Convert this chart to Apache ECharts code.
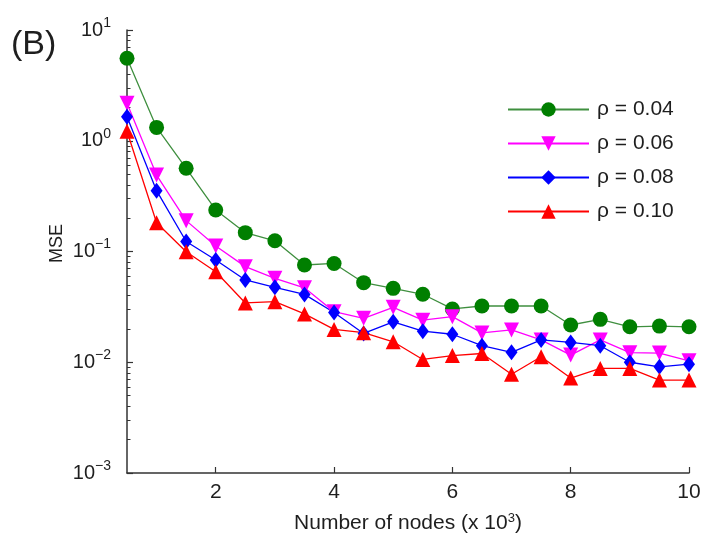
<!DOCTYPE html>
<html>
<head>
<meta charset="utf-8">
<script src="https://cdn.jsdelivr.net/npm/echarts@6/dist/echarts.min.js"></script>
<style>
  html, body { margin: 0; padding: 0; background: #fff; }
  #chart { width: 707px; height: 543px; }
</style>
</head>
<body>
<div id="chart"></div>
<script>
// Number of nodes (thousands)
const nodes = [0.5, 1, 1.5, 2, 2.5, 3, 3.5, 4, 4.5, 5, 5.5, 6, 6.5, 7, 7.5, 8, 8.5, 9, 9.5, 10];

// MSE for each sampling ratio
const mseRho004 = [5.55, 1.32, 0.564, 0.237, 0.148, 0.125, 0.0755, 0.078, 0.0523, 0.0465,
                   0.0411, 0.0303, 0.0322, 0.0322, 0.0322, 0.0217, 0.0244, 0.0209, 0.0212, 0.0209];
const mseRho006 = [2.18, 0.49, 0.19, 0.112, 0.073, 0.0573, 0.047, 0.0286, 0.0249, 0.0313,
                   0.024, 0.0258, 0.0184, 0.0196, 0.0159, 0.0116, 0.0159, 0.0122, 0.0121, 0.0103];
const mseRho008 = [1.65, 0.354, 0.123, 0.0838, 0.0553, 0.0475, 0.041, 0.0281, 0.0182, 0.0232,
                   0.0191, 0.0179, 0.0141, 0.0123, 0.0159, 0.0151, 0.0141, 0.0100, 0.0091, 0.0096];
const mseRho010 = [1.22, 0.182, 0.0996, 0.0657, 0.0343, 0.0352, 0.0273, 0.0198, 0.0185, 0.0153,
                   0.0106, 0.0115, 0.0120, 0.0078, 0.0112, 0.0072, 0.0088, 0.0088, 0.0069, 0.0069];

const seriesNames = ['ρ = 0.04', 'ρ = 0.06', 'ρ = 0.08', 'ρ = 0.10'];

// Axis tick values
const xTicks = [2, 4, 6, 8, 10];
const yMajorTicks = [0.001, 0.01, 0.1, 1, 10];

// 2..9 sub-ticks in every decade of the log axis
const yMinorTicks = [];
for (let e = -3; e < 1; e++) {
  for (let m = 2; m <= 9; m++) yMinorTicks.push(+(m * Math.pow(10, e)).toPrecision(3));
}

const pairs = arr => nodes.map((x, i) => [x, arr[i]]);

const font = 'Liberation Sans, Arial, sans-serif';
const axisColor = '#333';
const textColor = '#1e1e1e';

const chart = echarts.init(document.getElementById('chart'), null, { renderer: 'canvas' });

function lineSeries(name, data, color, symbol, size, rotate, lineColor) {
  return {
    name: name,
    type: 'line',
    data: pairs(data),
    symbol: symbol,
    symbolSize: size,
    symbolRotate: rotate,
    showSymbol: true,
    animation: false,
    lineStyle: { color: lineColor, width: 1.3 },
    itemStyle: { color: color, borderWidth: 0 }
  };
}

chart.setOption({
  animation: false,
  backgroundColor: '#fff',
  grid: { left: 127, top: 30, right: 18, bottom: 70, containLabel: false },
  graphic: [{
    type: 'text',
    left: 11,
    top: 28,
    style: { text: '(B)', font: '34px ' + font, fill: textColor }
  }],
  legend: {
    orient: 'vertical',
    left: 502,
    top: 94,
    itemWidth: 81,
    itemHeight: 18,
    itemGap: 13,
    textStyle: { fontFamily: font, fontSize: 21, color: textColor, padding: [0, 0, 0, 3] },
    data: seriesNames
  },
  xAxis: {
    type: 'value',
    min: 0.5,
    max: 10,
    name: '{t|Number of nodes (x 10}{s|3}{t|)}',
    nameLocation: 'middle',
    nameGap: 39,
    nameTextStyle: {
      rich: {
        t: { fontFamily: font, fontSize: 21, color: textColor },
        s: { fontFamily: font, fontSize: 13, color: textColor, verticalAlign: 'top', padding: [0, 0, 10, 0] }
      }
    },
    axisLine: { show: true, lineStyle: { color: axisColor, width: 1.5 } },
    axisTick: { show: true, inside: true, length: 6, customValues: xTicks, lineStyle: { color: axisColor, width: 1.2 } },
    axisLabel: { customValues: xTicks, margin: 9, fontFamily: font, fontSize: 21, color: textColor },
    splitLine: { show: false }
  },
  yAxis: [{
    type: 'log',
    logBase: 10,
    min: 0.001,
    max: 10,
    name: 'MSE',
    nameLocation: 'middle',
    nameGap: 61,
    nameMoveOverlap: false,
    nameTextStyle: { fontFamily: font, fontSize: 18, color: textColor, padding: [0, 0, 0, 16] },
    axisLine: { show: true, lineStyle: { color: axisColor, width: 1.5 } },
    axisTick: { show: true, inside: true, length: 6, customValues: yMajorTicks, lineStyle: { color: axisColor, width: 1.2 } },
    axisLabel: {
      customValues: yMajorTicks,
      margin: 16,
      formatter: v => '{b|10}{s|' + String(Math.round(Math.log10(v))).replace('-', '−') + '}',
      rich: {
        b: { fontFamily: font, fontSize: 20, color: textColor },
        s: { fontFamily: font, fontSize: 14, color: textColor, verticalAlign: 'top', padding: [0, 0, 14, 0] }
      }
    },
    splitLine: { show: false }
  }, {
    type: 'log',
    logBase: 10,
    min: 0.001,
    max: 10,
    position: 'left',
    offset: 0,
    axisLine: { show: false },
    axisTick: { show: true, inside: true, length: 3.5, customValues: yMinorTicks, lineStyle: { color: axisColor, width: 1 } },
    axisLabel: { show: false },
    splitLine: { show: false }
  }],
  series: [
    lineSeries(seriesNames[0], mseRho004, '#007f00', 'circle', 15, 0, '#3f8f3f'),
    lineSeries(seriesNames[1], mseRho006, '#ff00ff', 'triangle', 15, 180, '#ff00ff'),
    lineSeries(seriesNames[2], mseRho008, '#0000ff', 'diamond', [12, 16], 0, '#0000ff'),
    lineSeries(seriesNames[3], mseRho010, '#ff0000', 'triangle', 15, 0, '#ff0000')
  ]
});
</script>
</body>
</html>
